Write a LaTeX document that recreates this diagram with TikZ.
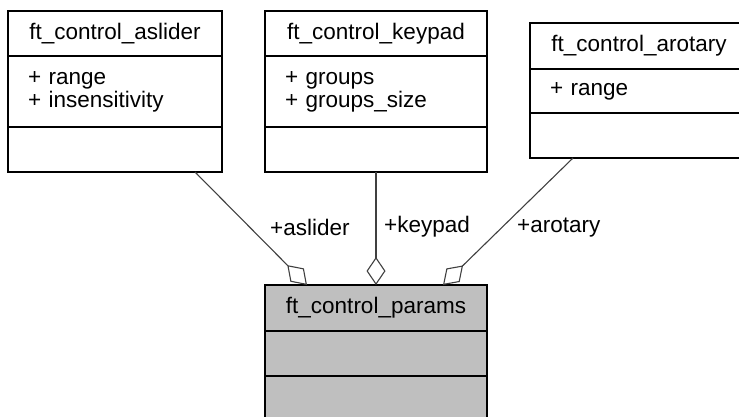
\documentclass[tikz,border=0pt]{standalone}
\usepackage{fontspec}
\setmainfont{Liberation Sans}
\usetikzlibrary{positioning, arrows.meta}

\begin{document}
\begin{tikzpicture}[x=1pt, y=-1pt, >={Diamond[open, length=28pt, width=19pt]},
    box/.style={draw, line width=1.3pt, outer sep=0pt, inner xsep=20pt, inner ysep=0pt,
      font=\fontsize{22.5}{23}\selectfont},
    assoc/.style={draw=black!75, line width=1.1pt, <-},
    lbl/.style={font=\fontsize{22.5}{23}\selectfont, inner sep=0pt}]
  \useasboundingbox (0,0) rectangle (739,416);

  % ft_control_aslider
  \node[box, anchor=north west, minimum width=214pt, minimum height=45pt] (asliderT) at (8,11) {ft\_control\_aslider};
  \node[box, below=0pt of asliderT, minimum width=214pt, minimum height=71pt, text width=174pt, align=left] (asliderA) {+ range\\+ insensitivity};
  \node[box, below=0pt of asliderA, minimum width=214pt, minimum height=45pt] (asliderM) {};

  % ft_control_keypad
  \node[box, anchor=north west, minimum width=222pt, minimum height=45pt] (keypadT) at (265,11) {ft\_control\_keypad};
  \node[box, below=0pt of keypadT, minimum width=222pt, minimum height=71pt, text width=182pt, align=left] (keypadA) {+ groups\\+ groups\_size};
  \node[box, below=0pt of keypadA, minimum width=222pt, minimum height=45pt] (keypadM) {};

  % ft_control_arotary
  \node[box, anchor=north west, minimum width=218pt, minimum height=46pt] (arotaryT) at (530,23) {ft\_control\_arotary};
  \node[box, below=0pt of arotaryT, minimum width=218pt, minimum height=44pt, text width=178pt, align=left] (arotaryA) {+ range};
  \node[box, below=0pt of arotaryA, minimum width=218pt, minimum height=45pt] (arotaryM) {};

  % ft_control_params
  \node[box, fill=black!25, anchor=north west, minimum width=222pt, minimum height=46pt] (paramsT) at (265,285) {ft\_control\_params};
  \node[box, fill=black!25, below=0pt of paramsT, minimum width=222pt, minimum height=45pt] (paramsA) {};
  \node[box, fill=black!25, below=0pt of paramsA, minimum width=222pt, minimum height=45pt] (paramsM) {};

  % Aggregations
  \draw[assoc] ([xshift=42pt]paramsT.north west) -- ([xshift=-27pt]asliderM.south east);
  \draw[assoc] (paramsT.north) -- (keypadM.south);
  \draw[assoc] ([xshift=-44pt]paramsT.north east) -- ([xshift=43pt]arotaryM.south west);

  \node[lbl, anchor=west] (lblAslider) at (270,227) {+aslider};
  \node[lbl, anchor=west] (lblKeypad) at (384,227) {+keypad};
  \node[lbl, anchor=west] (lblArotary) at (517,228) {+arotary};
\end{tikzpicture}
\end{document}
